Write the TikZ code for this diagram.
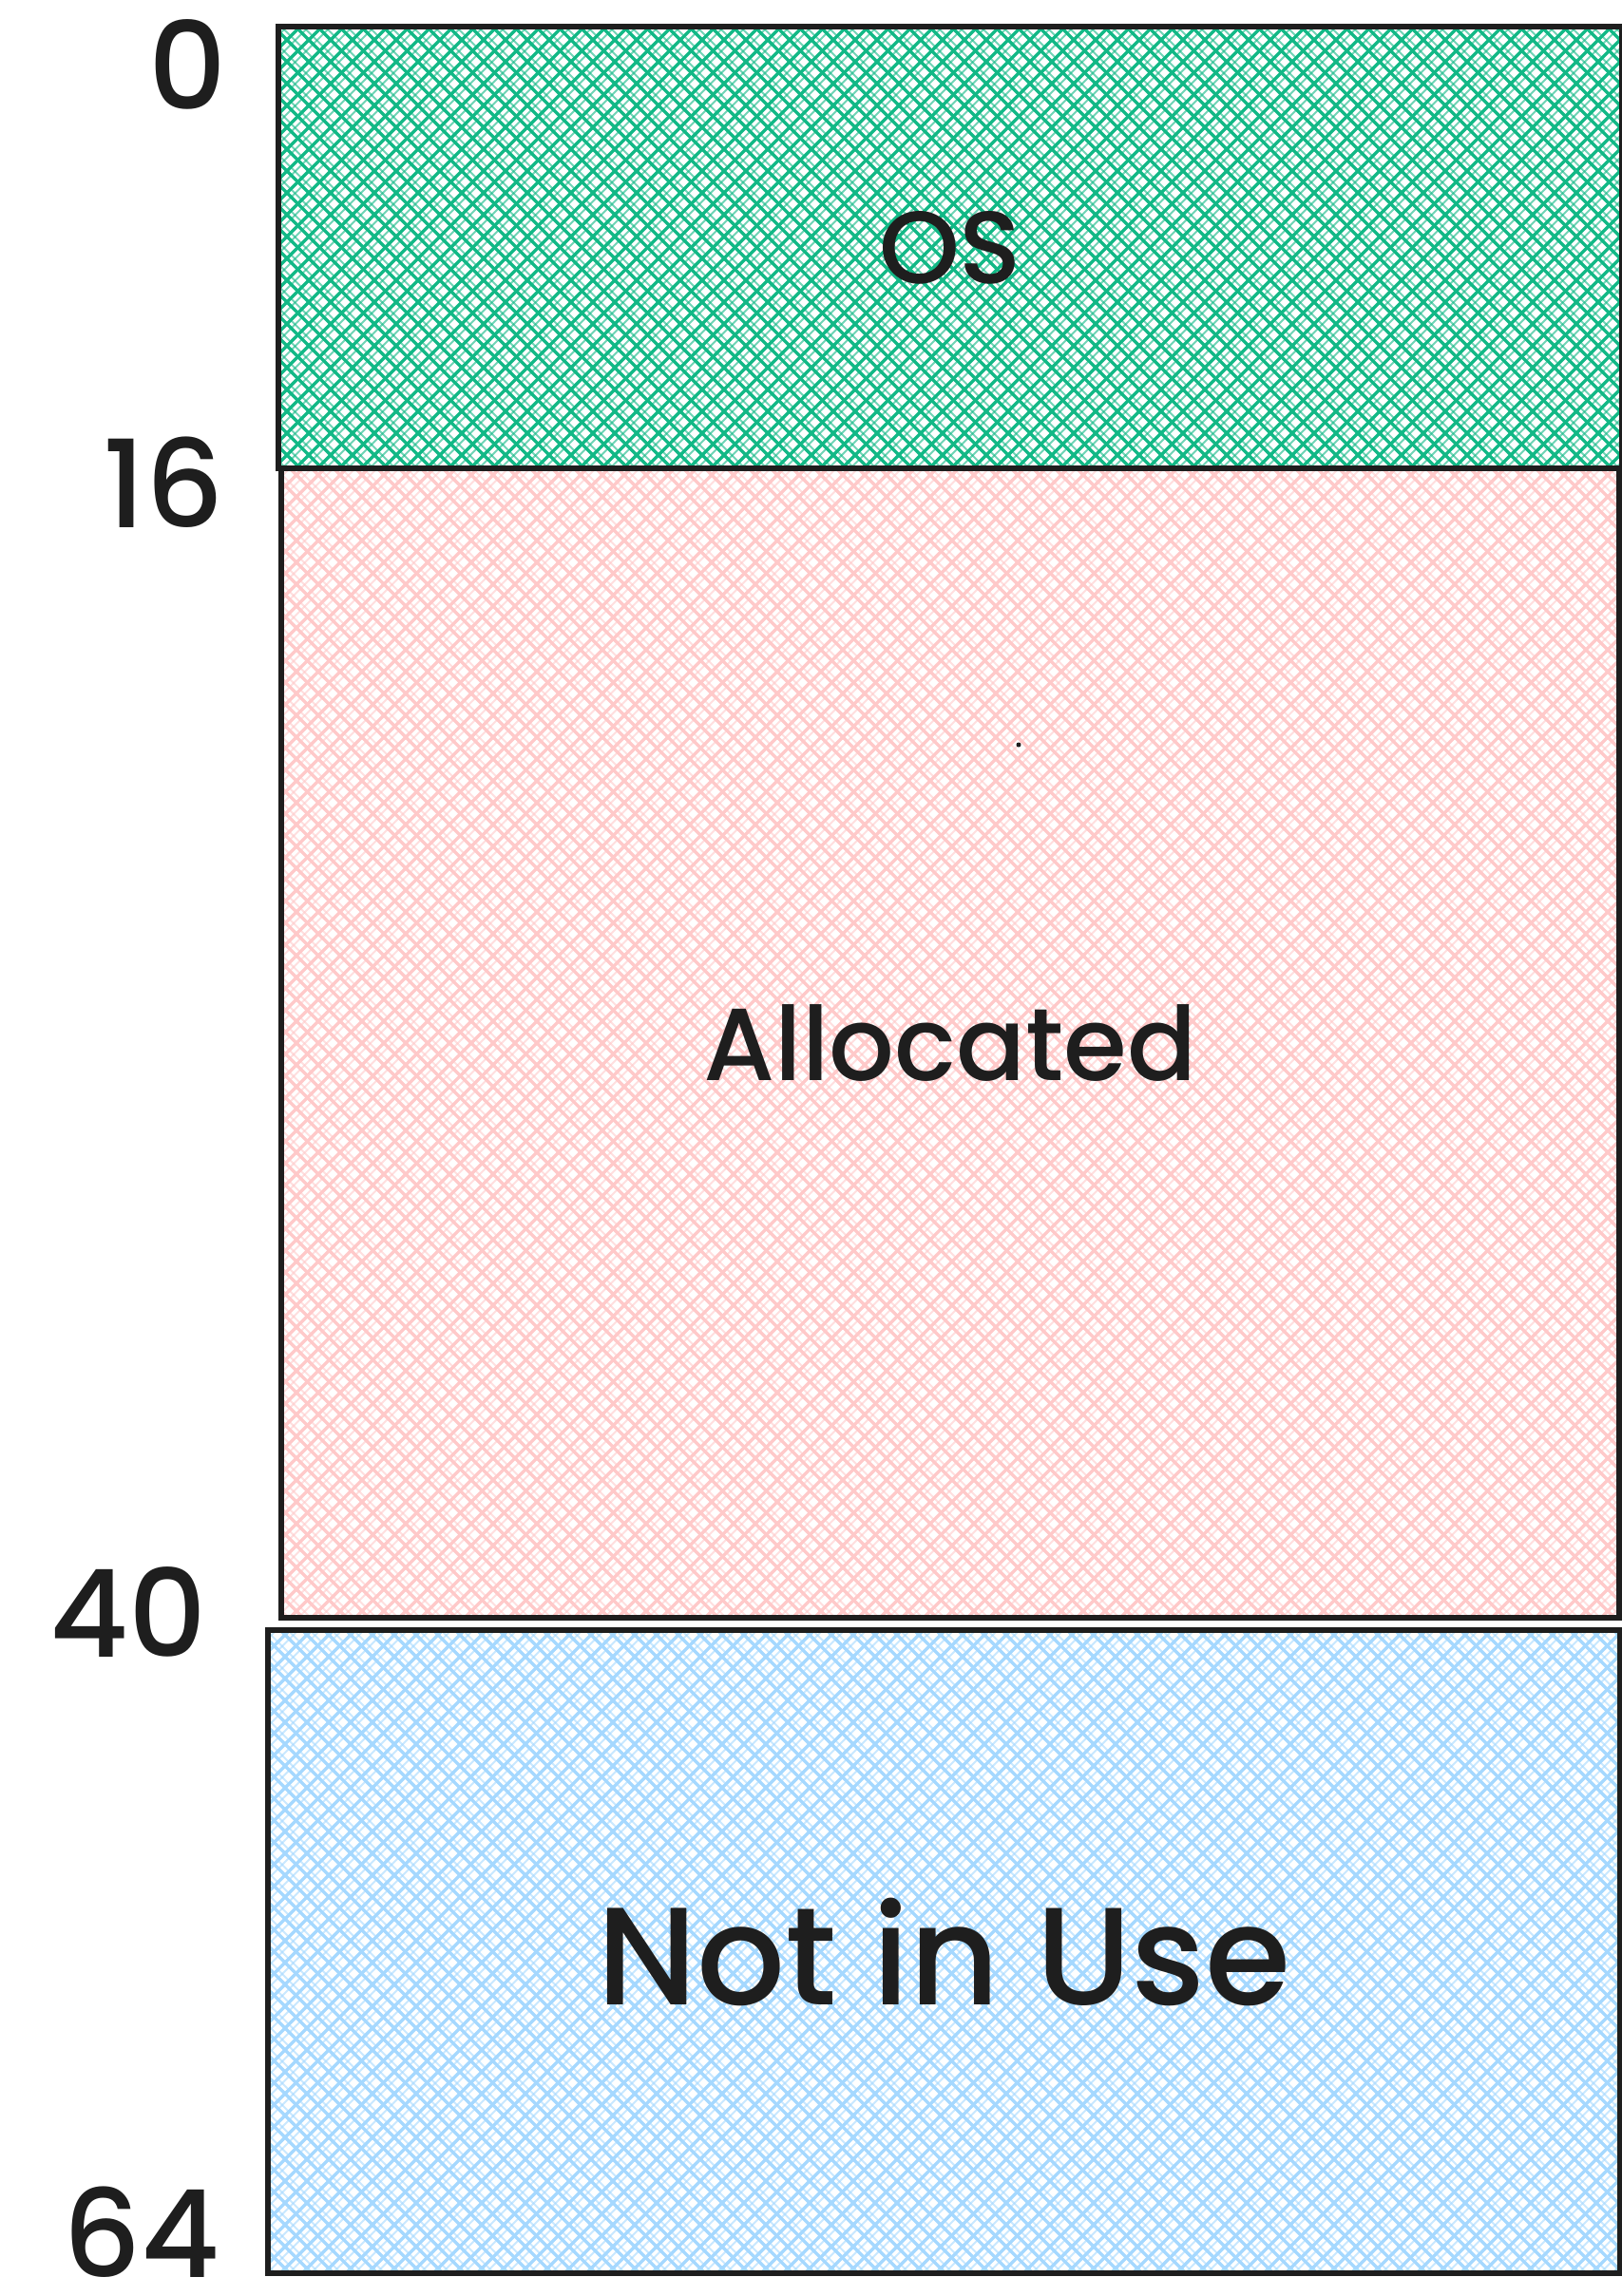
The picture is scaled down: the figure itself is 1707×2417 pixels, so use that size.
\documentclass[tikz,border=0pt]{standalone}
\usepackage{fontspec}
\setmainfont{Poppins Medium}
\definecolor{ink}{HTML}{1E1E1E}
\definecolor{osgreen}{HTML}{12B886}
\definecolor{allocpink}{HTML}{FFC9C9}
\definecolor{freeblue}{HTML}{A5D8FF}
% #1 colour, #2 x, #3 y, #4 width, #5 height
\newcommand\hatchbox[5]{%
  \begin{scope}
    \clip (#2,#3) rectangle ++(#4,#5);
    \pgfmathtruncatemacro\hN{(#4+#5)/23+1}
    \foreach \i in {0,...,\hN}{
      \pgfmathsetmacro\ca{#2-#5+23*\i}
      \pgfmathsetmacro\cb{#2+23*\i}
      \draw[#1, line width=3.4pt] (\ca,#3) -- ++(#5,#5);
      \draw[#1, line width=3.4pt] (\cb,#3) -- ++(-#5,#5);
      \draw[#1, line width=2pt, opacity=0.6] (\ca+8,#3) -- ++(#5,#5);
      \draw[#1, line width=2pt, opacity=0.6] (\cb+9,#3) -- ++(-#5,#5);
    }
  \end{scope}}
\tikzset{
  region/.style={draw=ink, line width=5.5pt, anchor=north west, inner sep=0pt,
    outer sep=0pt, text=ink},
  addr/.style={anchor=east, text=ink, font=\fontsize{128}{130}\selectfont,
    inner sep=0pt, text depth=0pt}
}
\begin{document}
\begin{tikzpicture}[x=1pt,y=-1pt]
\path[use as bounding box] (0,0) rectangle (1707,2417);
\hatchbox{allocpink}{296}{493}{1408}{1210}
\hatchbox{osgreen}{293}{28}{1414}{465}
\hatchbox{freeblue}{282}{1716}{1423}{677}
\node[region, minimum width=1408pt, minimum height=1210pt,
  font=\fontsize{108}{115}\selectfont] (alloc) at (296,493) {Allocated};
\node[region, minimum width=1414pt, minimum height=465pt,
  font=\fontsize{108}{115}\selectfont] (os) at (293,28) {OS};
\node[region, minimum width=1423pt, minimum height=677pt,
  font=\fontsize{146}{150}\selectfont] (free) at (282,1716) {Not in Use};
\fill[ink] (1072,784) circle (2.5pt) coordinate (speck);
\node[addr] (a0) at (239,68) {0};
\node[addr] (a16) at (236,508) {16};
\node[addr] (a40) at (218,1697) {40};
\node[addr] (a64) at (232,2350) {64};
\end{tikzpicture}
\end{document}
